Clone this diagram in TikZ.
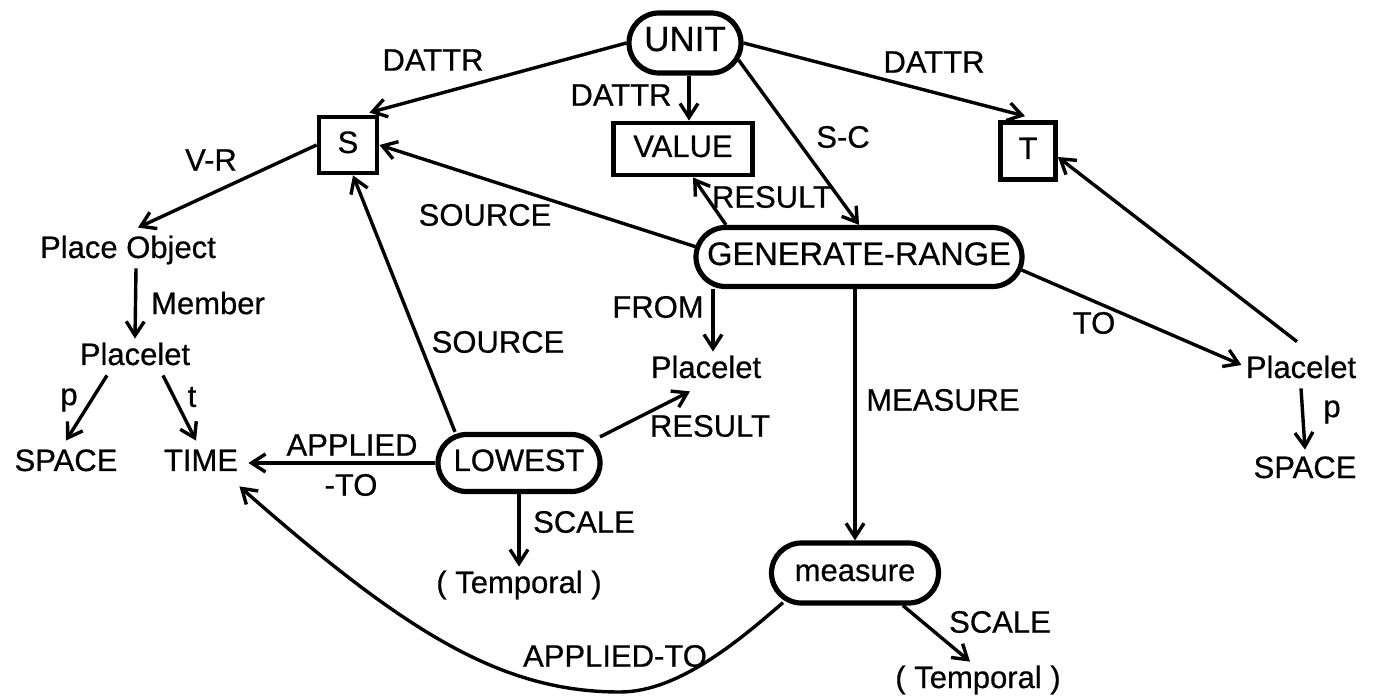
\documentclass[tikz,border=0pt]{standalone}
\usepackage{fontspec}
\setmainfont{Liberation Sans}
\newfontfamily\letterface{Liberation Sans}[FakeBold=0.6]
\usetikzlibrary{calc,arrows.meta,shapes.misc,positioning}
\newcommand{\lettering}{\letterface\fontsize{15.5}{17}\selectfont}
\tikzset{
    concept/.style = {draw, rounded rectangle, line width=2.6pt,
        minimum height=29pt, inner xsep=6pt,
        text height=11pt, text depth=3pt, font=\lettering},
    slot/.style = {draw, rectangle, line width=2.4pt,
        text height=11pt, text depth=3pt, font=\lettering},
    term/.style = {inner sep=2pt, text height=11pt, text depth=3pt, font=\lettering},
    rel/.style = {inner sep=1pt, font=\lettering},
    arrow/.style = {draw, line width=1.7pt, -{Straight Barb[length=7pt,width=9pt]}}
}

\begin{document}
\begin{tikzpicture}[x=0.5pt, y=-0.5pt]
    \useasboundingbox (0,0) rectangle (1374,699);
    \node [concept, minimum width=68pt, minimum height=30pt, font=\letterface\fontsize{17.5}{19}\selectfont] (unit) at (685,43) {UNIT};
    \node [slot, minimum width=29pt, minimum height=28pt] (s) at (348,145) {S};
    \node [slot, minimum width=69.5pt, minimum height=26pt] (value) at (683,149) {VALUE};
    \node [slot, minimum width=27.5pt, minimum height=28.5pt] (t) at (1028,151) {T};
    \node [concept, minimum width=175pt, minimum height=29.5pt, font=\letterface\fontsize{16.3}{18}\selectfont] (genrange) at (859,257) {GENERATE-RANGE};
    \node [term] (placeobj) at (128,250) {Place Object};
    \node [term] (placeletL) at (135,357) {Placelet};
    \node [term] (spaceL) at (66,463) {SPACE};
    \node [term] (time) at (201,463) {TIME};
    \node [term] (placeletM) at (706,370) {Placelet};
    \node [concept, minimum width=93pt, minimum height=28.5pt] (lowest) at (519,463) {LOWEST};
    \node [term] (temporalL) at (519,585) {( Temporal )};
    \node [term] (placeletR) at (1301,370) {Placelet};
    \node [term] (spaceR) at (1305,470) {SPACE};
    \node [concept, minimum width=95.5pt, minimum height=30pt] (measure) at (855,573) {measure};
    \node [term] (temporalR) at (978,680) {( Temporal )};

    \node [rel] (lDattrS) at (433,60) {DATTR};
    \node [rel] (lDattrV) at (621,95) {DATTR};
    \node [rel] (lDattrT) at (934,62) {DATTR};
    \node [rel] (lSC) at (843,137) {S-C};
    \node [rel] (lVR) at (211,160) {V-R};
    \node [rel] (lSourceG) at (485,215) {SOURCE};
    \node [rel] (lResultG) at (772,197) {RESULT};
    \node [rel] (lMember) at (208,303) {Member};
    \node [rel] (lFrom) at (658,307) {FROM};
    \node [rel] (lTo) at (1094,323) {TO};
    \node [rel] (lSourceL) at (498,342) {SOURCE};
    \node [rel] (lResultL) at (710,426) {RESULT};
    \node [rel] (lMeasure) at (943,400) {MEASURE};
    \node [rel] (lpL) at (69,400) {p};
    \node [rel] (ltL) at (192,397) {t};
    \node [rel] (lApplied) at (352,445) {APPLIED};
    \node [rel] (lTo2) at (351,485) {-TO};
    \node [rel] (lScaleL) at (584,522) {SCALE};
    \node [rel] (lpR) at (1332,412) {p};
    \node [rel] (lScaleM) at (1000,622) {SCALE};
    \node [rel] (lAppliedTo) at (615,656) {APPLIED-TO};

    \draw [arrow] (unit.west) -- ($(s.north east)+(-10,-2)$);
    \draw [arrow] ($(unit.south)+(4,0)$) -- ($(value.north)+(6,0)$);
    \draw [arrow] (unit.east) -- ($(t.north)+(-3,-4)$);
    \draw [arrow] ($(unit.east)+(-5,17)$) -- (genrange.north);
    \draw [arrow] (s.west) -- ($(placeobj.north)+(10,-4)$);
    \draw [arrow] ($(genrange.west)+(3,-10)$) -- (s.east);
    \draw [arrow] ($(genrange.north)+(-133,0)$) -- ($(value.south)+(10,0)$);
    \draw [arrow] ($(genrange.south)+(-146,0)$) -- ($(placeletM.north)+(7,0)$);
    \draw [arrow] ($(genrange.east)+(-3,13)$) -- ($(placeletR.west)+(0,-5)$);
    \draw [arrow] ($(placeletR.north)+(-4,-10)$) -- ($(t.east)+(0,6)$);
    \draw [arrow] ($(genrange.south)+(-4,0)$) -- (measure.north);
    \draw [arrow] ($(placeobj.south)+(8,0)$) -- (placeletL.north);
    \draw [arrow] ($(placeletL.south)+(-28,0)$) -- ($(spaceL.north)+(0,-4)$);
    \draw [arrow] ($(placeletL.south)+(28,0)$) -- ($(time.north)+(-5,-4)$);
    \draw [arrow] ($(lowest.north)+(-64,0)$) -- ($(s.south)+(5,0)$);
    \draw [arrow] ($(lowest.north)+(81,5)$) -- ($(placeletM.south)+(-16,3)$);
    \draw [arrow] (lowest.west) -- ($(time.east)+(6,0)$);
    \draw [arrow] (lowest.south) -- (temporalL.north);
    \draw [arrow] (placeletR.south) -- ($(spaceR.north)+(0,-2)$);
    \draw [arrow] ($(measure.south)+(48,0)$) -- ($(temporalR.north)+(-8,0)$);
    \draw [arrow] ($(measure.south)+(-72,-3)$) .. controls (743,637) and (680,692) .. (620,692)
        .. controls (500,692) and (404,631) .. ($(time.south east)+(-3,5)$);
\end{tikzpicture}
\end{document}
